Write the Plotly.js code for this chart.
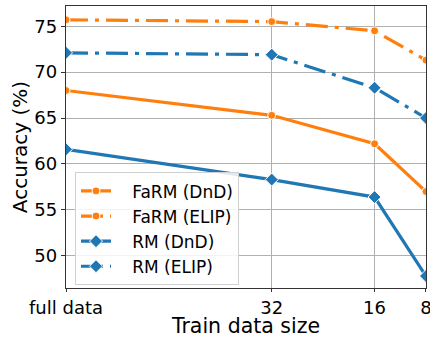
<!DOCTYPE html>
<html>
<head>
<meta charset="utf-8">
<script src="https://cdn.plot.ly/plotly-3.0.1.min.js"></script>
<style>html,body{margin:0;padding:0;background:#fff;}#chart{width:430px;height:338px;}</style>
</head>
<body>
<div id="chart"></div>
<script>
// Data
const xPositions = [64, 32, 16, 8];
const xTickLabels = ["full data", "32", "16", "8"];
const farmDnD = [68.0, 65.3, 62.2, 57.0];
const farmELIP = [75.7, 75.5, 74.5, 71.3];
const rmDnD = [61.6, 58.3, 56.4, 47.8];
const rmELIP = [72.1, 71.9, 68.3, 65.0];
const seriesNames = ["FaRM (DnD)", "FaRM (ELIP)", "RM (DnD)", "RM (ELIP)"];

const orange = "#ff7f0e", blue = "#1f77b4";
const dashdot = "22px,7px,4px,7px";
const pad = "\u00A0\u00A0\u00A0";
function tr(name, y, color, dash, symbol, size) {
  return {
    x: xPositions, y: y, name: pad + name, type: "scatter", mode: "lines+markers",
    line: {color: color, width: 3.2, dash: dash},
    marker: {color: color, symbol: symbol, size: size, line: {color: "#fff", width: 1}},
    legendgroup: name, cliponaxis: true
  };
}
const data = [
  tr(seriesNames[0], farmDnD, orange, "solid", "circle", 8),
  tr(seriesNames[1], farmELIP, orange, dashdot, "circle", 8),
  tr(seriesNames[2], rmDnD, blue, "solid", "diamond", 10),
  tr(seriesNames[3], rmELIP, blue, dashdot, "diamond", 10)
];
const layout = {
  width: 430, height: 338,
  margin: {l: 66, r: 4, t: 6, b: 50},
  paper_bgcolor: "#fff", plot_bgcolor: "#fff",
  font: {family: "DejaVu Sans", size: 17, color: "#000"},
  showlegend: true,
  legend: {
    x: 0.025, y: 0.41, xanchor: "left", yanchor: "top",
    bgcolor: "rgba(255,255,255,0.85)", bordercolor: "#d0d0d0", borderwidth: 1,
    font: {family: "DejaVu Sans", size: 17, color: "#000"},
    tracegroupgap: 0, traceorder: "grouped"
  },
  xaxis: {
    range: [64, 7.999], tickmode: "array", tickvals: xPositions, ticktext: xTickLabels,
    ticklabeloverflow: "allow",
    showgrid: true, gridcolor: "#b0b0b0", gridwidth: 1,
    showline: true, linecolor: "#333", linewidth: 1.2, mirror: true,
    ticks: "outside", ticklen: 3, tickcolor: "#333",
    zeroline: false, tickfont: {family: "DejaVu Sans", size: 18, color: "#000"},
    title: {text: "Train data size", font: {family: "DejaVu Sans", size: 20.5, color: "#000"}, standoff: 15}
  },
  yaxis: {
    range: [46.5, 77.2], tickvals: [50, 55, 60, 65, 70, 75],
    showgrid: true, gridcolor: "#b0b0b0", gridwidth: 1,
    showline: true, linecolor: "#333", linewidth: 1.2, mirror: true,
    ticks: "outside", ticklen: 4, tickcolor: "#333",
    zeroline: false, tickfont: {family: "DejaVu Sans", size: 18, color: "#000"},
    title: {text: "Accuracy (%)", font: {family: "DejaVu Sans", size: 20, color: "#000"}, standoff: 1}
  }
};
Plotly.newPlot("chart", data, layout, {displayModeBar: false, staticPlot: true});
</script>
</body>
</html>
